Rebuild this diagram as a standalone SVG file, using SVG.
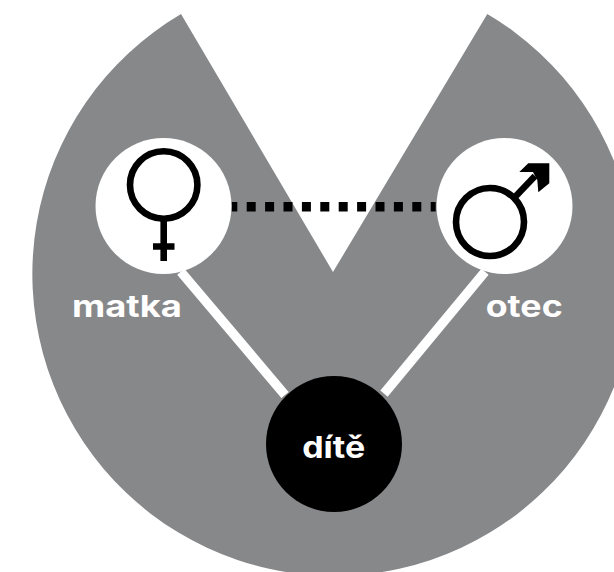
<svg xmlns="http://www.w3.org/2000/svg" width="614" height="572" viewBox="0 0 614 572">
<style>
.w{fill:#fff}
.t{font-family:Inter,"Liberation Sans",Arial,sans-serif;font-weight:700;font-size:30px;fill:#fff;text-anchor:middle}
.s{fill:none;stroke:#000;stroke-width:6.6}
.c{fill:none;stroke:#fff;stroke-width:9.5}
</style>
<rect width="614" height="572" fill="#fff"/>
<path id="pie" d="M181 14 L333 272 L487.300 14 A301.800 301.800 0 1 1 181 14 Z" fill="#87888a"/>
<g id="connectors">
<path class="c" d="M180.800 271.700L285 395"/>
<path class="c" d="M485 271.700L384 393.600"/>
<path d="M231.700 206.700H435.700" fill="none" stroke="#000" stroke-width="9.500" stroke-dasharray="9 9.400" stroke-dashoffset="3.400"/>
</g>
<g id="matka">
<circle class="w" cx="163.500" cy="206" r="68"/>
<circle class="s" cx="163.700" cy="185" r="33.700"/>
<path class="s" d="M163.700 219V261M153 246.500H174.500"/>
<text class="t" x="127" y="316.500" textLength="110" lengthAdjust="spacingAndGlyphs">matka</text>
</g>
<g id="otec">
<circle class="w" cx="504.500" cy="206" r="68"/>
<circle class="s" cx="490" cy="222" r="34"/>
<path class="s" d="M515 197L535 176"/>
<path d="M549.300 163.300H528.300L519.300 172H533L537.300 180L538.300 192.300L549.300 183.300Z"/>
<text class="t" x="524.200" y="316.700" textLength="77" lengthAdjust="spacingAndGlyphs">otec</text>
</g>
<g id="dite">
<circle cx="334" cy="444" r="68"/>
<text class="t" x="333.700" y="458.300" textLength="63" lengthAdjust="spacingAndGlyphs">dítě</text>
</g>
</svg>
